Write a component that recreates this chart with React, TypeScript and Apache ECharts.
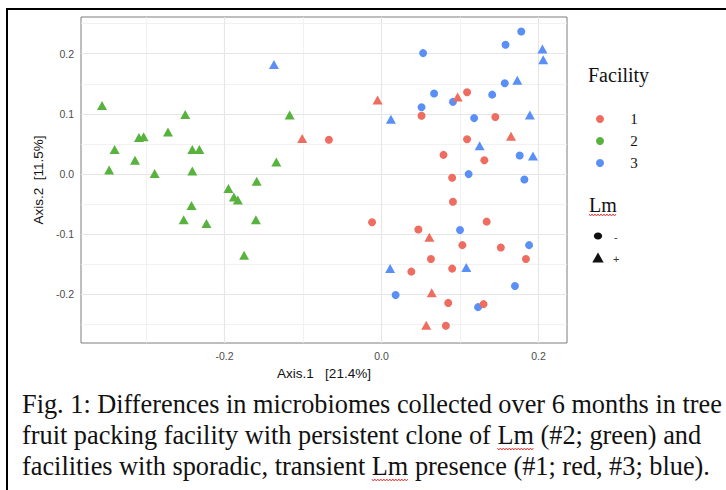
import React, { useEffect, useRef } from "react";
import * as echarts from "echarts";

// ---- Data ----
// Facility 1 (red)
const fac1Minus: number[][] = [
  [-0.067, 0.057], [0.051, 0.097], [0.109, 0.136], [0.145, 0.095], [0.109, 0.058],
  [0.079, 0.032], [0.131, 0.023], [0.090, -0.006], [0.091, -0.046], [0.134, -0.079],
  [0.047, -0.092], [0.103, -0.118], [0.152, -0.122], [0.063, -0.141], [0.184, -0.141],
  [0.038, -0.162], [0.090, -0.157], [0.085, -0.214], [0.130, -0.216], [0.082, -0.252],
  [-0.012, -0.080],
];
const fac1Plus: number[][] = [
  [-0.101, 0.059], [-0.005, 0.123], [0.097, 0.128], [0.165, 0.063], [0.061, -0.105],
  [0.064, -0.197], [0.057, -0.251],
];
// Facility 2 (green)
const fac2Plus: number[][] = [
  [-0.356, 0.114], [-0.250, 0.099], [-0.272, 0.070], [-0.309, 0.061], [-0.303, 0.062],
  [-0.340, 0.041], [-0.241, 0.041], [-0.232, 0.041], [-0.314, 0.023], [-0.347, 0.007],
  [-0.289, 0.001], [-0.241, 0.005], [-0.159, -0.012], [-0.195, -0.024], [-0.188, -0.038],
  [-0.183, -0.043], [-0.242, -0.052], [-0.252, -0.076], [-0.223, -0.082], [-0.160, -0.076],
  [-0.175, -0.135], [-0.117, 0.098], [-0.134, 0.020],
];
// Facility 3 (blue)
const fac3Minus: number[][] = [
  [0.053, 0.201], [0.178, 0.237], [0.158, 0.215], [0.157, 0.151], [0.067, 0.134],
  [0.091, 0.120], [0.141, 0.132], [0.051, 0.111], [0.118, 0.093], [0.176, 0.031],
  [0.111, 0.000], [0.182, -0.009], [0.100, -0.093], [0.188, -0.118], [0.170, -0.186],
  [0.018, -0.201], [0.123, -0.221],
];
const fac3Plus: number[][] = [
  [-0.137, 0.182], [0.205, 0.208], [0.206, 0.190], [0.173, 0.156], [0.012, 0.091],
  [0.189, 0.098], [0.125, 0.047], [0.193, 0.030], [0.011, -0.157], [0.108, -0.155],
];

const xTicks = [-0.2, 0.0, 0.2];
const yTicks = [-0.2, -0.1, 0.0, 0.1, 0.2];
const xMinor = [-0.3, -0.1, 0.1];
const yMinor = [-0.25, -0.15, -0.05, 0.05, 0.15, 0.25];

const facilityLabels = ["1", "2", "3"];
const lmLabels = ["-", "+"];

const xTitle = "Axis.1   [21.4%]";
const yTitle = "Axis.2  [11.5%]";
const legendTitle1 = "Facility";
const legendTitle2 = "Lm";
const captionLines = [
  "Fig. 1: Differences in microbiomes collected over 6 months in tree",
  "fruit packing facility with persistent clone of Lm (#2; green) and",
  "facilities with sporadic, transient Lm presence (#1; red, #3; blue).",
];

// ---- Style ----
const RED = "#EE6C60";
const GREEN = "#57B33E";
const BLUE = "#5A90F6";
const facilityColors = [RED, GREEN, BLUE];
const SANS = "'Liberation Sans', Arial, sans-serif";
const SERIF = "'Liberation Serif', 'Times New Roman', serif";

function measure(text: string, font: string): number {
  const c = document.createElement("canvas").getContext("2d");
  if (!c) return text.length * 10;
  c.font = font;
  return c.measureText(text).width;
}

function wavy(x0: number, x1: number, y: number): number[][] {
  const pts: number[][] = [];
  let i = 0;
  for (let x = x0; x <= x1; x += 1.5) {
    pts.push([x, y + (i % 2 === 0 ? -1 : 1)]);
    i++;
  }
  return pts;
}

export default function App() {
  const ref = useRef<HTMLDivElement>(null);

  useEffect(() => {
    if (!ref.current) return;
    const chart = echarts.init(ref.current, null, { renderer: "svg" });

    const captionFont = 26.3;
    const capX = 22;
    const capY = [404, 435, 466];
    const capFontStr = `${captionFont}px 'Liberation Serif', 'Times New Roman', serif`;

    const l2pre = measure("fruit packing facility with persistent clone of ", capFontStr);
    const l3pre = measure("facilities with sporadic, transient ", capFontStr);
    const lmW = measure("Lm", capFontStr);
    const legLmW = measure("Lm", "20px 'Liberation Serif', serif");

    const graphics: any[] = [
      { type: "line", shape: { x1: 7, y1: 9, x2: 726, y2: 9 }, style: { stroke: "#000", lineWidth: 2 }, silent: true },
      { type: "line", shape: { x1: 7, y1: 8, x2: 7, y2: 490 }, style: { stroke: "#000", lineWidth: 2 }, silent: true },
      { type: "text", x: 588, y: 75, style: { text: legendTitle1, font: `20px ${SERIF}`, fill: "#111", verticalAlign: "middle" } },
      ...facilityLabels.flatMap((lab, i) => [
        { type: "circle", shape: { cx: 600, cy: 119 + i * 22, r: 4 }, style: { fill: facilityColors[i] } },
        { type: "text", x: 634, y: 119 + i * 22, style: { text: lab, font: `15px ${SERIF}`, fill: "#111", align: "center", verticalAlign: "middle" } },
      ]),
      { type: "text", x: 589, y: 205, style: { text: legendTitle2, font: `20px ${SERIF}`, fill: "#111", verticalAlign: "middle" } },
      { type: "polyline", shape: { points: wavy(589, 589 + legLmW, 215) }, style: { stroke: "#e0302a", lineWidth: 0.9, fill: null } },
      { type: "ellipse", shape: { cx: 598, cy: 236, rx: 4.2, ry: 3.5 }, style: { fill: "#111" } },
      { type: "text", x: 614, y: 237, style: { text: lmLabels[0], font: `11px ${SANS}`, fill: "#333", verticalAlign: "middle" } },
      { type: "polygon", shape: { points: [[598, 252.5], [592.3, 262.5], [603.7, 262.5]] }, style: { fill: "#111" } },
      { type: "text", x: 613, y: 259, style: { text: lmLabels[1], font: `11px ${SANS}`, fill: "#333", verticalAlign: "middle" } },
      ...captionLines.map((t, i) => ({
        type: "text", x: capX, y: capY[i],
        style: { text: t, font: capFontStr, fill: "#111", verticalAlign: "middle" },
      })),
      { type: "polyline", shape: { points: wavy(capX + l2pre, capX + l2pre + lmW, capY[1] + 14) }, style: { stroke: "#e0302a", lineWidth: 0.9, fill: null } },
      { type: "polyline", shape: { points: wavy(capX + l3pre, capX + l3pre + lmW, capY[2] + 14) }, style: { stroke: "#e0302a", lineWidth: 0.9, fill: null } },
    ];

    const gridLineSeries = {
      type: "scatter",
      data: [] as number[][],
      silent: true,
      z: 1,
      markLine: {
        silent: true,
        symbol: "none",
        animation: false,
        z: 1,
        label: { show: false },
        data: [
          ...xMinor.map((v) => ({ xAxis: v, lineStyle: { color: "#eeeeee", width: 0.8, type: "solid" } })),
          ...yMinor.map((v) => ({ yAxis: v, lineStyle: { color: "#eeeeee", width: 0.8, type: "solid" } })),
          ...xTicks.map((v) => ({ xAxis: v, lineStyle: { color: "#e6e6e6", width: 1.2, type: "solid" } })),
          ...yTicks.map((v) => ({ yAxis: v, lineStyle: { color: "#e6e6e6", width: 1.2, type: "solid" } })),
        ],
      },
    };

    const mk = (data: number[][], color: string, tri: boolean) => ({
      type: "scatter",
      data,
      z: 10,
      symbol: tri ? "triangle" : "circle",
      symbolSize: tri ? [10, 9] : 8,
      itemStyle: { color, opacity: 1 },
      emphasis: { disabled: true },
    });

    chart.setOption({
      animation: false,
      backgroundColor: "#fff",
      grid: {
        left: 81, top: 17, width: 486, height: 326,
        show: true, backgroundColor: "#fff", borderColor: "#7c7c7c", borderWidth: 1,
        containLabel: false,
      },
      xAxis: {
        type: "value",
        min: -0.3828,
        max: 0.2363,
        splitLine: { show: false },
        axisLine: { show: false },
        axisTick: { show: true, customValues: xTicks, length: 4, lineStyle: { color: "#444" } },
        axisLabel: {
          customValues: xTicks, formatter: (v: number) => v.toFixed(1),
          color: "#4d4d4d", fontSize: 10.5, fontFamily: SANS, margin: 7,
        },
        name: xTitle, nameLocation: "middle", nameGap: 23,
        nameTextStyle: { color: "#111", fontSize: 13.5, fontFamily: SANS },
      },
      yAxis: {
        type: "value",
        min: -0.2806,
        max: 0.261,
        splitLine: { show: false },
        axisLine: { show: false },
        axisTick: { show: true, customValues: yTicks, length: 4, lineStyle: { color: "#444" } },
        axisLabel: {
          customValues: yTicks, formatter: (v: number) => v.toFixed(1),
          color: "#4d4d4d", fontSize: 10.5, fontFamily: SANS, margin: 7,
        },
        name: yTitle, nameLocation: "middle", nameGap: 36, nameRotate: 90,
        nameTextStyle: { color: "#111", fontSize: 13.5, fontFamily: SANS },
      },
      series: [
        gridLineSeries,
        mk(fac3Minus, BLUE, false),
        mk(fac3Plus, BLUE, true),
        mk(fac1Minus, RED, false),
        mk(fac1Plus, RED, true),
        mk(fac2Plus, GREEN, true),
      ],
      graphic: { elements: graphics },
    });

    return () => chart.dispose();
  }, []);

  return (
    <div
      ref={ref}
      style={{ position: "absolute", left: 0, top: 0, width: 726, height: 490, background: "#fff" }}
    />
  );
}
